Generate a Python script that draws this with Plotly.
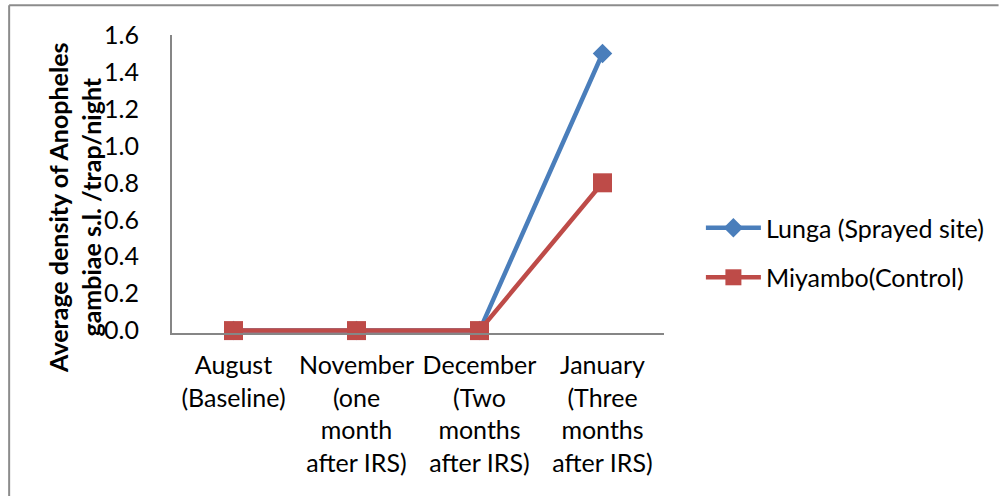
import plotly.graph_objects as go

# Sampling periods (before and after indoor residual spraying)
categories = [
    "August<br>(Baseline)",
    "November<br>(one<br>month<br>after IRS)",
    "December<br>(Two<br>months<br>after IRS)",
    "January<br>(Three<br>months<br>after IRS)",
]
lunga = [0.0, 0.0, 0.0, 1.5]      # sprayed site
miyambo = [0.0, 0.0, 0.0, 0.8]    # control site
y_ticks = [0.0, 0.2, 0.4, 0.6, 0.8, 1.0, 1.2, 1.4, 1.6]

FONT = "Lato, Carlito, Calibri, sans-serif"
BLUE = "#4A7EBB"
RED = "#BE4B48"
AXIS = "#868686"
FS = 25

fig = go.Figure()
fig.add_trace(go.Scatter(
    x=categories, y=lunga, name="Lunga (Sprayed site)", legendgroup="a",
    mode="lines+markers", cliponaxis=False,
    line=dict(color=BLUE, width=4.5),
    marker=dict(symbol="diamond", size=15, color=BLUE),
))
fig.add_trace(go.Scatter(
    x=categories, y=miyambo, name="Miyambo(Control)", legendgroup="b",
    mode="lines+markers", cliponaxis=False,
    line=dict(color=RED, width=4.5),
    marker=dict(symbol="square", size=19, color=RED),
))

# y-axis title, two lines, rotated
fig.add_annotation(
    text="<b>Average density of Anopheles<br>gambiae s.l. /trap/night</b>",
    xref="paper", yref="paper", x=-0.197, y=0.42,
    xanchor="center", yanchor="middle", textangle=-90, showarrow=False,
    font=dict(family=FONT, size=FS, color="black"),
)

# frame line along the top and left edges
fig.add_shape(type="line", xref="paper", yref="paper",
              x0=-0.331, x1=1.68, y0=1.1, y1=1.1,
              line=dict(color="#8C8C8C", width=2))
fig.add_shape(type="line", xref="paper", yref="paper",
              x0=-0.331, x1=-0.331, y0=1.1, y1=-0.6,
              line=dict(color="#8C8C8C", width=2))

fig.update_layout(
    width=1002, height=496,
    margin=dict(l=172, r=334, t=35, b=163),
    paper_bgcolor="white", plot_bgcolor="white",
    font=dict(family=FONT, size=FS, color="black"),
    showlegend=True,
    legend=dict(
        x=1.075, y=0.27, xanchor="left", yanchor="middle",
        font=dict(family=FONT, size=FS, color="black"),
        tracegroupgap=14, itemwidth=55,
        bgcolor="rgba(0,0,0,0)",
    ),
    xaxis=dict(
        range=[-0.5, 3.5], showgrid=False, zeroline=False,
        showline=True, linecolor=AXIS, linewidth=2,
        ticks="", tickfont=dict(family=FONT, size=FS, color="black"),
        ticklabelstandoff=9,
    ),
    yaxis=dict(
        # small headroom below zero keeps the zero-level lines unclipped
        range=[-0.013, 1.6], tickvals=y_ticks, tickformat=".1f",
        showgrid=False, zeroline=False,
        showline=True, linecolor=AXIS, linewidth=2,
        ticks="", tickfont=dict(family=FONT, size=FS, color="black"),
        ticklabelstandoff=26,
    ),
)

fig.write_html("out.html")
